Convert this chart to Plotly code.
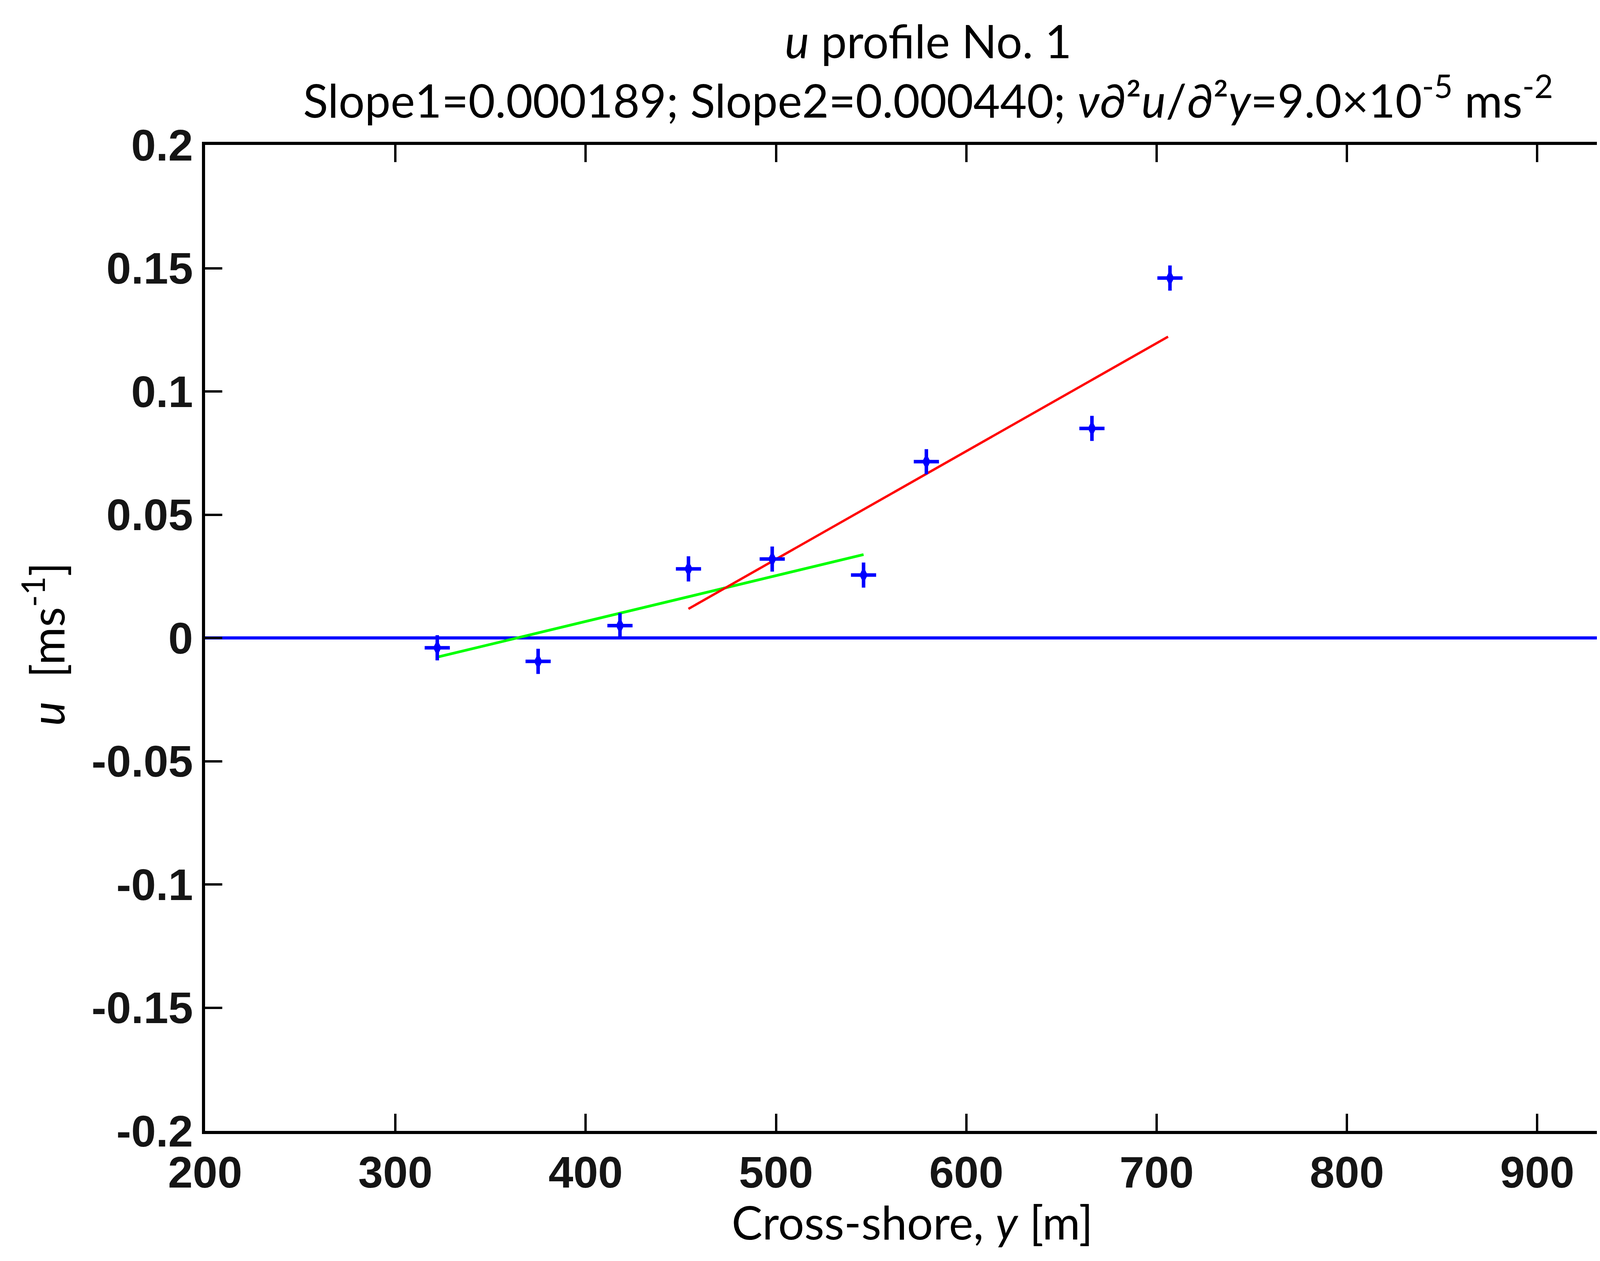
import plotly.graph_objects as go

# measured u profile points
y_pos = [322, 375, 418, 454, 498, 546, 579, 666, 707]
u_vel = [-0.004, -0.0095, 0.005, 0.028, 0.032, 0.0255, 0.0715, 0.085, 0.146]

# fitted lines (end points)
fit1_x = [322, 546]
fit1_u = [-0.0078, 0.0338]
fit2_x = [454, 706]
fit2_u = [0.0118, 0.1222]

zero_x = [200, 950]
zero_u = [0, 0]

x_ticks = [200, 300, 400, 500, 600, 700, 800, 900]
y_ticks = [0.2, 0.15, 0.1, 0.05, 0, -0.05, -0.1, -0.15, -0.2]
y_ticktext = ["0.2", "0.15", "0.1", "0.05", "0", "-0.05", "-0.1", "-0.15", "-0.2"]

title1 = "<i>u</i> profile No. 1"
title2 = ("Slope1=0.000189; Slope2=0.000440; <i>ν</i>∂²<i>u</i>/∂²<i>y</i>"
          "=9.0×10<sup>-5</sup> ms<sup>-2</sup>")

fig = go.Figure()
fig.add_trace(go.Scatter(x=zero_x, y=zero_u, mode="lines",
                         line=dict(color="#0000ff", width=8)))
fig.add_trace(go.Scatter(x=fit1_x, y=fit1_u, mode="lines",
                         line=dict(color="#00ff00", width=7)))
fig.add_trace(go.Scatter(x=fit2_x, y=fit2_u, mode="lines",
                         line=dict(color="#ff0000", width=6)))
# '+' markers with a chunky centre, like the low-res original
fig.add_trace(go.Scatter(x=y_pos, y=u_vel, mode="markers",
                         marker=dict(symbol="cross-thin", size=46,
                                     line=dict(color="#0000ff", width=9))))
fig.add_trace(go.Scatter(x=y_pos, y=u_vel, mode="markers",
                         marker=dict(symbol="diamond-tall", size=30, color="#0000ff",
                                     line=dict(width=0))))

tickfont = dict(family="Liberation Sans", size=114, color="#151515", weight="bold")
fig.update_xaxes(range=[200, 950], tickvals=x_ticks, ticks="inside",
                 ticklen=44, tickwidth=6, tickcolor="black",
                 showline=True, linecolor="black", linewidth=8, mirror="ticks",
                 showgrid=False, zeroline=False, tickfont=tickfont)
fig.update_yaxes(range=[-0.2, 0.2], tickvals=y_ticks, ticktext=y_ticktext,
                 ticks="inside", ticklen=44, tickwidth=6, tickcolor="black",
                 showline=True, linecolor="black", linewidth=8, mirror="ticks",
                 showgrid=False, zeroline=False, tickfont=tickfont)

labfont = dict(family="Lato", size=118, color="black")
fig.add_annotation(text=title1, x=0.5066, y=1.106, xref="paper", yref="paper",
                   showarrow=False, font=labfont, xanchor="center", yanchor="middle")
fig.add_annotation(text=title2, x=0.5066, y=1.049, xref="paper", yref="paper",
                   showarrow=False, font=labfont, xanchor="center", yanchor="middle")
fig.add_annotation(text="Cross-shore, <i>y</i> [m]", x=0.4956, y=-0.092,
                   xref="paper", yref="paper", showarrow=False, font=labfont,
                   xanchor="center", yanchor="middle")
fig.add_annotation(text="<i>u</i>  [ms<sup>-1</sup>]", x=-0.113, y=0.4937,
                   xref="paper", yref="paper", showarrow=False, font=labfont,
                   textangle=-90, xanchor="center", yanchor="middle")

fig.update_layout(width=4219, height=3228, showlegend=False,
                  plot_bgcolor="white", paper_bgcolor="white",
                  margin=dict(l=517, r=48, t=363, b=341))
fig.write_html("out.html")
